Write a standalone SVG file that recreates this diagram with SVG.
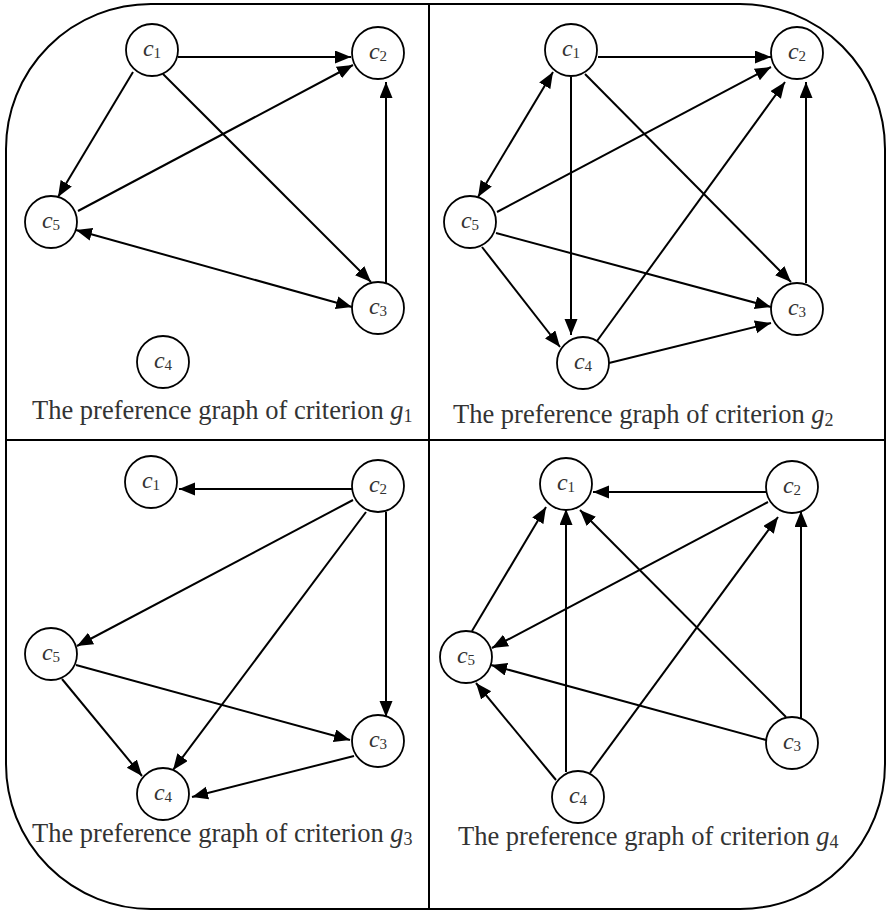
<svg xmlns="http://www.w3.org/2000/svg" width="886" height="911" viewBox="0 0 886 911">
<style>
.frame{fill:none;stroke:#000;stroke-width:2}
.nd{fill:#fff;stroke:#000;stroke-width:1.8}
.lbl{font-family:"Liberation Serif","Times New Roman",serif;font-style:italic;font-size:24px;fill:#333;text-anchor:middle}
.sub{font-style:normal;font-size:15px}
.cap{font-family:"Liberation Serif","Times New Roman",serif;font-size:26.5px;fill:#333}
.capi{font-style:italic}
.csub{font-size:18px}
.e{stroke:#000;stroke-width:2;fill:none;marker-end:url(#ah)}
.b{marker-start:url(#ah)}
</style>
<defs>
<marker id="ah" markerUnits="userSpaceOnUse" markerWidth="18" markerHeight="14" refX="16" refY="6.5" orient="auto-start-reverse">
<path d="M0,0 L16,6.5 L0,13 z" fill="#000"/>
</marker>
</defs>
<g id="frame">
<rect class="frame" x="6" y="4" width="879" height="905" rx="145" ry="145"/>
<line class="frame" x1="429" y1="4" x2="429" y2="909"/>
<line class="frame" x1="6" y1="440" x2="885" y2="440"/>
</g>
<g id="connectors">
<line class="e" x1="178" y1="57" x2="351" y2="57"/>
<line class="e" x1="78" y1="211" x2="353" y2="65"/>
<line class="e" x1="133" y1="72" x2="58" y2="197"/>
<line class="e" x1="163" y1="74" x2="371" y2="282"/>
<line class="e b" x1="76" y1="230" x2="352" y2="307"/>
<line class="e" x1="386" y1="283" x2="386" y2="82"/>
<line class="e" x1="598" y1="57" x2="771" y2="57"/>
<line class="e b" x1="553" y1="72" x2="478" y2="197"/>
<line class="e" x1="571" y1="77" x2="571" y2="335"/>
<line class="e" x1="585" y1="74" x2="791" y2="282"/>
<line class="e" x1="497" y1="212" x2="771" y2="67"/>
<line class="e" x1="496" y1="233" x2="771" y2="307"/>
<line class="e" x1="482" y1="247" x2="560" y2="347"/>
<line class="e" x1="597" y1="341" x2="785" y2="82"/>
<line class="e" x1="609" y1="363" x2="771" y2="323"/>
<line class="e" x1="806" y1="283" x2="806" y2="82"/>
<line class="e" x1="352" y1="489" x2="179" y2="489"/>
<line class="e" x1="353" y1="500" x2="77" y2="646"/>
<line class="e" x1="366" y1="512" x2="173" y2="770"/>
<line class="e" x1="386" y1="512" x2="386" y2="717"/>
<line class="e" x1="76" y1="665" x2="350" y2="740"/>
<line class="e" x1="62" y1="679" x2="142" y2="776"/>
<line class="e" x1="354" y1="756" x2="192" y2="797"/>
<line class="e" x1="766" y1="492" x2="593" y2="492"/>
<line class="e" x1="768" y1="502" x2="492" y2="648"/>
<line class="e" x1="472" y1="631" x2="546" y2="507"/>
<line class="e" x1="566" y1="772" x2="566" y2="509"/>
<line class="e" x1="786" y1="717" x2="580" y2="510"/>
<line class="e" x1="590" y1="773" x2="778" y2="517"/>
<line class="e" x1="801" y1="720" x2="801" y2="511"/>
<line class="e" x1="766" y1="740" x2="491" y2="665"/>
<line class="e" x1="556" y1="780" x2="476" y2="683"/>
</g>
<g id="g1-c1"><circle class="nd" cx="152" cy="50" r="26"/><text class="lbl" x="152" y="56">c<tspan class="sub" dy="2">1</tspan></text></g>
<g id="g1-c2"><circle class="nd" cx="378" cy="53" r="26"/><text class="lbl" x="378" y="59">c<tspan class="sub" dy="2">2</tspan></text></g>
<g id="g1-c3"><circle class="nd" cx="378" cy="308" r="26"/><text class="lbl" x="378" y="314">c<tspan class="sub" dy="2">3</tspan></text></g>
<g id="g1-c4"><circle class="nd" cx="163" cy="362" r="26"/><text class="lbl" x="163" y="368">c<tspan class="sub" dy="2">4</tspan></text></g>
<g id="g1-c5"><circle class="nd" cx="51" cy="222" r="26"/><text class="lbl" x="51" y="228">c<tspan class="sub" dy="2">5</tspan></text></g>
<g id="g2-c1"><circle class="nd" cx="571" cy="50" r="26"/><text class="lbl" x="571" y="56">c<tspan class="sub" dy="2">1</tspan></text></g>
<g id="g2-c2"><circle class="nd" cx="797" cy="53" r="26"/><text class="lbl" x="797" y="59">c<tspan class="sub" dy="2">2</tspan></text></g>
<g id="g2-c3"><circle class="nd" cx="797" cy="309" r="26"/><text class="lbl" x="797" y="315">c<tspan class="sub" dy="2">3</tspan></text></g>
<g id="g2-c4"><circle class="nd" cx="583" cy="363" r="26"/><text class="lbl" x="583" y="369">c<tspan class="sub" dy="2">4</tspan></text></g>
<g id="g2-c5"><circle class="nd" cx="470" cy="222" r="26"/><text class="lbl" x="470" y="228">c<tspan class="sub" dy="2">5</tspan></text></g>
<g id="g3-c1"><circle class="nd" cx="151" cy="482" r="26"/><text class="lbl" x="151" y="488">c<tspan class="sub" dy="2">1</tspan></text></g>
<g id="g3-c2"><circle class="nd" cx="378" cy="486" r="26"/><text class="lbl" x="378" y="492">c<tspan class="sub" dy="2">2</tspan></text></g>
<g id="g3-c3"><circle class="nd" cx="378" cy="741" r="26"/><text class="lbl" x="378" y="747">c<tspan class="sub" dy="2">3</tspan></text></g>
<g id="g3-c4"><circle class="nd" cx="163" cy="794" r="26"/><text class="lbl" x="163" y="800">c<tspan class="sub" dy="2">4</tspan></text></g>
<g id="g3-c5"><circle class="nd" cx="51" cy="654" r="26"/><text class="lbl" x="51" y="660">c<tspan class="sub" dy="2">5</tspan></text></g>
<g id="g4-c1"><circle class="nd" cx="566" cy="484" r="26"/><text class="lbl" x="566" y="490">c<tspan class="sub" dy="2">1</tspan></text></g>
<g id="g4-c2"><circle class="nd" cx="792" cy="487" r="26"/><text class="lbl" x="792" y="493">c<tspan class="sub" dy="2">2</tspan></text></g>
<g id="g4-c3"><circle class="nd" cx="792" cy="743" r="26"/><text class="lbl" x="792" y="749">c<tspan class="sub" dy="2">3</tspan></text></g>
<g id="g4-c4"><circle class="nd" cx="578" cy="797" r="26"/><text class="lbl" x="578" y="803">c<tspan class="sub" dy="2">4</tspan></text></g>
<g id="g4-c5"><circle class="nd" cx="466" cy="657" r="26"/><text class="lbl" x="466" y="663">c<tspan class="sub" dy="2">5</tspan></text></g>
<g id="captions">
<text class="cap" x="32" y="419">The preference graph of criterion <tspan class="capi">g</tspan><tspan class="csub" dy="3">1</tspan></text>
<text class="cap" x="453" y="423">The preference graph of criterion <tspan class="capi">g</tspan><tspan class="csub" dy="3">2</tspan></text>
<text class="cap" x="32" y="842">The preference graph of criterion <tspan class="capi">g</tspan><tspan class="csub" dy="3">3</tspan></text>
<text class="cap" x="458" y="845">The preference graph of criterion <tspan class="capi">g</tspan><tspan class="csub" dy="3">4</tspan></text>
</g>
</svg>
